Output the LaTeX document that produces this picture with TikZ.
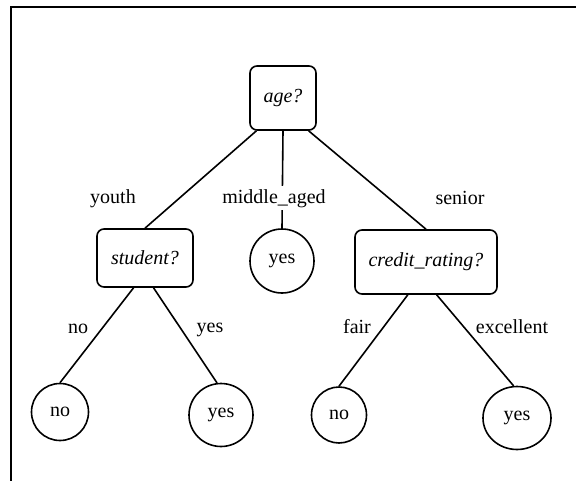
\documentclass[tikz,border=0pt]{standalone}
\usepackage{fontspec}
\setmainfont{Liberation Serif}
\usetikzlibrary{shapes.geometric}
\begin{document}
\begin{tikzpicture}[x=1pt,y=-1pt,
  test/.style={draw,line width=1.6pt,rounded corners=7pt,inner sep=0pt,
    font=\fontsize{20}{24}\selectfont\itshape},
  leaf/.style={draw,ellipse,line width=1.6pt,inner sep=0pt,
    font=\fontsize{20}{24}\selectfont},
  branch/.style={line width=1.6pt},
  blabel/.style={anchor=base,inner xsep=2pt,inner ysep=3pt,
    font=\fontsize{20}{24}\selectfont}]
\useasboundingbox (0,0) rectangle (576,480);

% frame
\coordinate (fa) at (11,482);
\coordinate (fb) at (11,7);
\coordinate (fc) at (578,7);
\draw[line width=2.2pt] (fa) -- (fb) -- (fc);

% attribute tests
\node[test,minimum width=66pt,minimum height=64pt] (age) at (283,98) {age?};
\node[test,minimum width=96pt,minimum height=58pt] (student) at (145,258) {student?};
\node[test,minimum width=142pt,minimum height=64pt] (credit) at (426,262) {credit\_rating?};

% class leaves
\node[leaf,minimum width=64pt,minimum height=64pt] (mid) at (282,261) {yes};
\node[leaf,minimum width=57pt,minimum height=57pt] (sno) at (60,412) {no};
\node[leaf,minimum width=64pt,minimum height=63pt] (syes) at (221,415) {yes};
\node[leaf,minimum width=55pt,minimum height=56pt] (cno) at (339,415) {no};
\node[leaf,minimum width=68pt,minimum height=63pt] (cyes) at (517,418) {yes};

% branches
\draw[branch] (age.231) -- (student.north);
\draw[branch] (age.south) -- (mid.north);
\draw[branch] (age.308) -- (credit.north);
\draw[branch] (student.249) -- (sno.north);
\draw[branch] (student.286) -- (syes.97);
\draw[branch] (credit.241) -- (cno.north);
\draw[branch] (credit.288) -- (cyes.96);

% branch labels
\node[blabel] (lyouth) at (113,203) {youth};
\node[blabel,fill=white] (lmid) at (274,203) {middle\_aged};
\node[blabel] (lsenior) at (460,204) {senior};
\node[blabel] (lno) at (78,333) {no};
\node[blabel] (lyes) at (210,332) {yes};
\node[blabel] (lfair) at (357,333) {fair};
\node[blabel] (lexc) at (512,333) {excellent};
\end{tikzpicture}
\end{document}
